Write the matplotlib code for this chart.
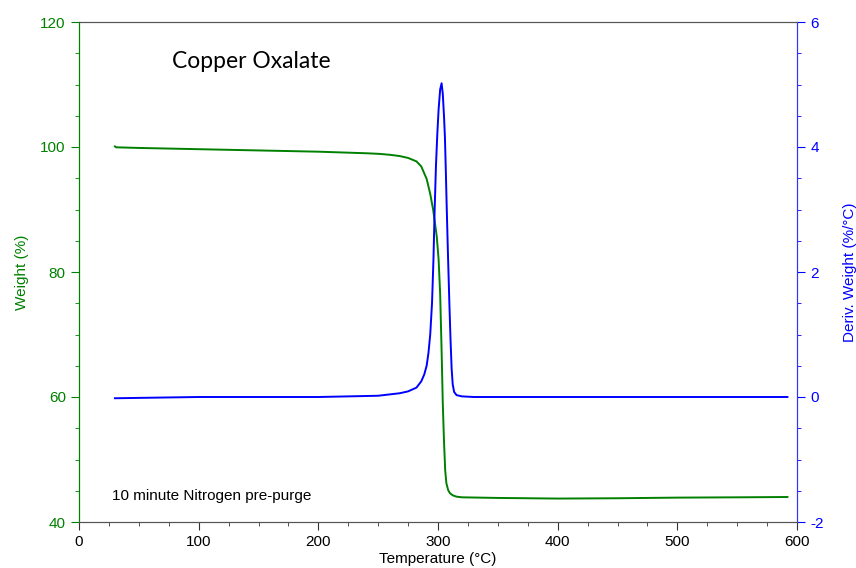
import matplotlib
matplotlib.use("Agg")
import matplotlib.pyplot as plt
from matplotlib.ticker import MultipleLocator

plt.rcParams['font.family'] = ['Liberation Sans', 'DejaVu Sans']
plt.rcParams['axes.unicode_minus'] = False

# weight curve (temperature degC, weight %)
temp_w = [30, 31, 50, 100, 150, 200, 240, 251, 260, 268, 275, 282, 286,
          290.5, 293.5, 296, 299, 300.5, 301.8, 303, 304, 305, 306, 307,
          308.5, 310, 312.5, 315.6, 320, 350, 400, 450, 500, 550, 592]
weight = [100.1, 99.95, 99.85, 99.65, 99.45, 99.25, 99.0, 98.9, 98.75, 98.55,
          98.25, 97.7, 96.9, 94.9, 92.5, 89.9, 85.6, 82.0, 76.5, 67.5, 59.0,
          53.0, 48.3, 46.2, 45.1, 44.6, 44.25, 44.05, 43.95, 43.85, 43.75,
          43.8, 43.9, 43.95, 44.0]

# derivative curve (temperature degC, deriv. weight %/degC)
temp_d = [30, 100, 200, 250, 268, 275, 282, 286, 288.5, 290.5, 292, 293.5,
          295, 296.2, 297.2, 298.3, 299.4, 300.5, 301.8, 303, 304, 305, 305.8,
          306.5, 307.2, 308.3, 309.5, 310.5, 311.4, 312.3, 313.5, 315.5, 320,
          330, 400, 500, 592]
deriv = [-0.02, 0.0, 0.0, 0.02, 0.06, 0.09, 0.15, 0.25, 0.36, 0.5, 0.7, 1.0,
         1.5, 2.2, 3.0, 3.7, 4.2, 4.6, 4.92, 5.02, 4.85, 4.5, 4.15, 3.65, 3.1,
         2.3, 1.5, 0.9, 0.45, 0.2, 0.08, 0.03, 0.01, 0.0, 0.0, 0.0, 0.0]

GREEN = '#008000'
BLUE = '#0000ff'

fig = plt.figure(figsize=(8.56, 5.68), dpi=100)
ax = fig.add_axes([79 / 856, 1 - 522 / 568, 718 / 856, 500 / 568])
ax2 = ax.twinx()

ax.plot(temp_w, weight, color=GREEN, lw=1.4, zorder=3)
ax2.plot(temp_d, deriv, color=BLUE, lw=1.4)

ax.set_xlim(0, 600)
ax.set_ylim(40, 120)
ax2.set_ylim(-2, 6)

ax.xaxis.set_major_locator(MultipleLocator(100))
ax.xaxis.set_minor_locator(MultipleLocator(25))
ax.yaxis.set_major_locator(MultipleLocator(20))
ax.yaxis.set_minor_locator(MultipleLocator(5))
ax2.yaxis.set_major_locator(MultipleLocator(2))
ax2.yaxis.set_minor_locator(MultipleLocator(0.5))

ax.tick_params(axis='x', which='major', length=6, colors='#333333',
               labelsize=11, labelcolor='black')
ax.tick_params(axis='x', which='minor', length=3, colors='#333333')
ax.tick_params(axis='y', which='major', length=6, colors=GREEN, labelsize=11)
ax.tick_params(axis='y', which='minor', length=3, colors=GREEN)
ax2.tick_params(axis='y', which='major', length=6, colors=BLUE, labelsize=11)
ax2.tick_params(axis='y', which='minor', length=3, colors=BLUE)

for a in (ax, ax2):
    a.spines['top'].set_color('#555555')
    a.spines['bottom'].set_color('#555555')
    a.spines['left'].set_color(GREEN)
    a.spines['right'].set_color('#3333ff')

ax.set_xlabel('Temperature (°C)', fontsize=11, labelpad=2)
ax.set_ylabel('Weight (%)', fontsize=11, color=GREEN, labelpad=8)
ax2.set_ylabel('Deriv. Weight (%/°C)', fontsize=11, color=BLUE, labelpad=14)

ax.text(77.7, 113.6, 'Copper Oxalate', fontsize=16.5,
        family=['Lato', 'DejaVu Sans'], va='center', ha='left')
ax.text(27.6, 44.2, '10 minute Nitrogen pre-purge', fontsize=11,
        va='center', ha='left')

fig.savefig('out.png', dpi=100)
